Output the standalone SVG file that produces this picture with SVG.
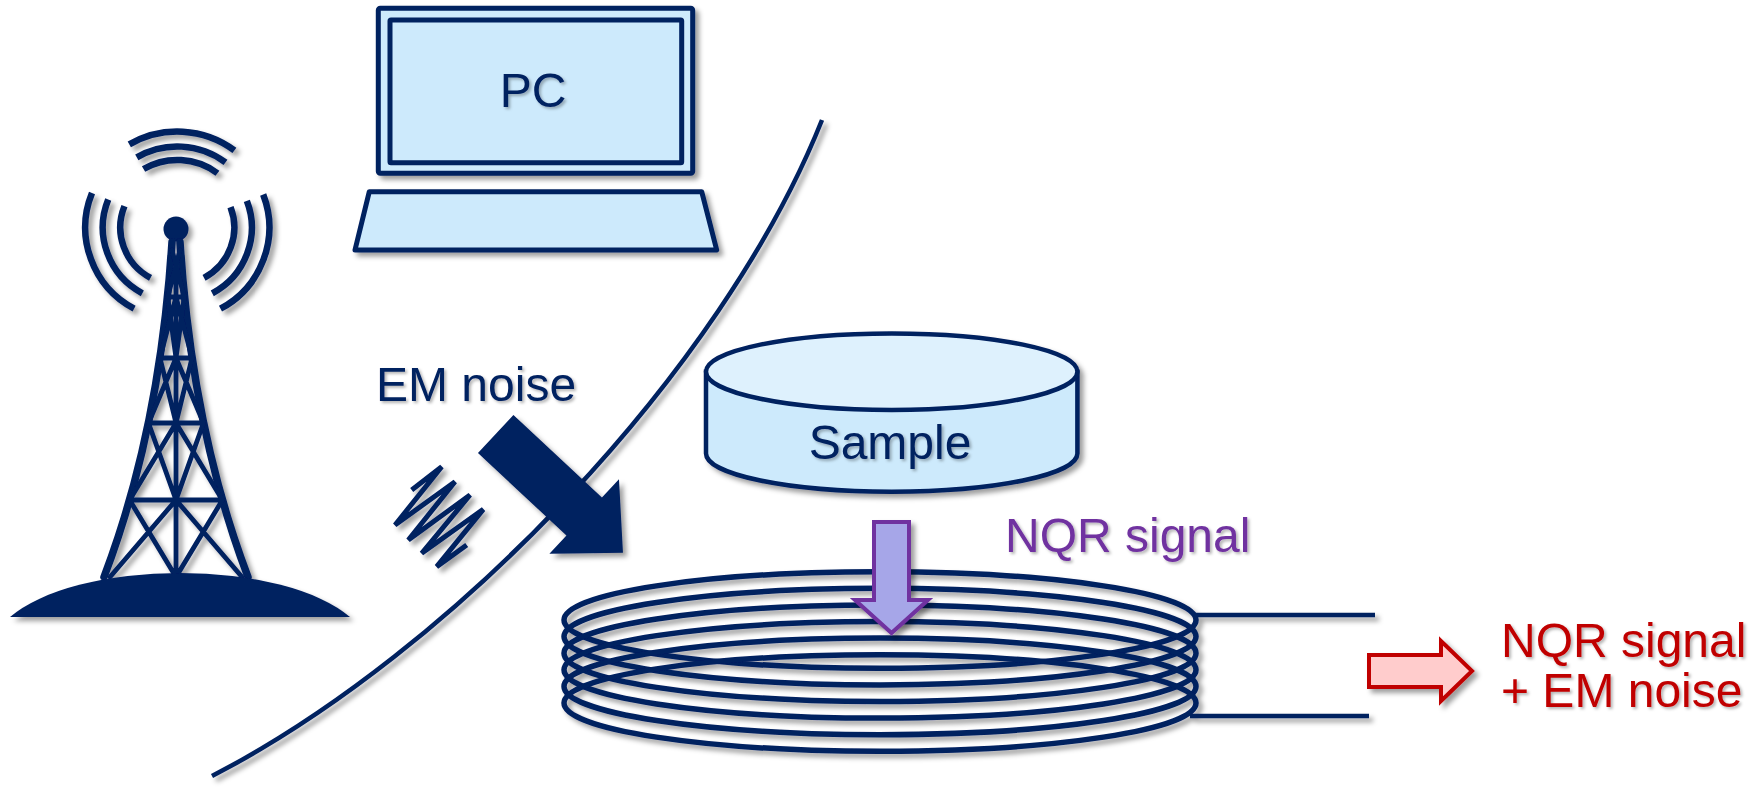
<svg xmlns="http://www.w3.org/2000/svg" width="1760" height="791" viewBox="0 0 1760 791">
  <defs>
    <filter id="shadow" filterUnits="userSpaceOnUse" x="0" y="0" width="1760" height="791">
      <feDropShadow dx="4" dy="4" stdDeviation="2.5" flood-color="#000" flood-opacity="0.38"/>
    </filter>
    <filter id="textShadow" filterUnits="userSpaceOnUse" x="0" y="0" width="1760" height="791">
      <feDropShadow dx="2" dy="2" stdDeviation="1.5" flood-color="#000" flood-opacity="0.3"/>
    </filter>
  </defs>
  <style>
    .navy { stroke: #002060; fill: none; }
    .wire { stroke: #002060; fill: none; stroke-width: 4.5; }
    .lattice { stroke: #002060; stroke-width: 4.8; fill: none; stroke-linecap: round; }
    .wave { stroke: #002060; stroke-width: 6.5; fill: none; stroke-linecap: butt; }
    .box { stroke: #002060; stroke-width: 5; stroke-linejoin: round; fill: #CDEAFC; }
    .label { font-family: "Liberation Sans", Arial, sans-serif; font-size: 48px; }
  </style>

  <!-- shielding boundary -->
  <g id="boundary" filter="url(#shadow)">
    <path class="wire" d="M822,120 C722,371 452,652 212,776"/>
  </g>

  <!-- radio tower -->
  <g id="tower" filter="url(#shadow)">
    <circle cx="176" cy="229" r="12.5" fill="#002060"/>
    <g class="wave">
      <path d="M124.45,206.15 A57,57 0 0 0 150.54,277.83"/>
      <path d="M108.22,199.59 A74.5,74.5 0 0 0 142.32,293.28"/>
      <path d="M92,193.04 A92,92 0 0 0 134.11,308.73"/>
      <path d="M230.52,207.07 A57,57 0 0 1 204.06,277.83"/>
      <path d="M246.85,200.8 A74.5,74.5 0 0 1 212.28,293.28"/>
      <path d="M263.19,194.53 A92,92 0 0 1 220.49,308.73"/>
      <path d="M143.55,169.04 A67.5,67.5 0 0 1 217.45,173.24"/>
      <path d="M136.8,157.35 A81,81 0 0 1 225.48,162.38"/>
      <path d="M129.3,144.36 A96,96 0 0 1 234.4,150.33"/>
    </g>
    <path class="lattice" style="stroke-width:7.5" d="M172,242 Q160,430 104,577 M180,242 Q192,430 248,577"/>
    <path class="lattice" d="M176,262 V577
      M167.7,297 H184.3 M160,358 H192 M148.5,423 H203.5 M129.6,500 H222.4
      M172,250 L184.3,297 M180,250 L167.7,297
      M167.7,297 L176,358 M176,297 L160,358 M184.3,297 L176,358 M176,297 L192,358
      M160,358 L176,423 M176,358 L148.5,423 M192,358 L176,423 M176,358 L203.5,423
      M148.5,423 L176,500 M176,423 L129.6,500 M203.5,423 L176,500 M176,423 L222.4,500
      M129.6,500 L176,577 M176,500 L110,577 M222.4,500 L176,577 M176,500 L242,577"/>
    <path d="M10,617 A188,77 0 0 1 350,617 Z" fill="#002060"/>
  </g>

  <!-- PC -->
  <g id="pc" filter="url(#shadow)">
    <rect class="box" x="378.3" y="8.3" width="314.4" height="165" rx="2"/>
    <rect class="box" x="390" y="20" width="291.7" height="142.7" rx="1"/>
    <polygon class="box" points="369.3,191.7 701.7,191.7 716.7,250 355,250"/>
  </g>
  <text class="label" x="533" y="107" text-anchor="middle" fill="#002060" filter="url(#textShadow)">PC</text>

  <!-- sample disc -->
  <g id="sample" filter="url(#shadow)">
    <path d="M706,371.7 V453.4 A185.7,38.3 0 0 0 1077.4,453.4 V371.7 Z" fill="#CDEAFC" stroke="#002060" stroke-width="4.5"/>
    <ellipse cx="891.7" cy="371.7" rx="185.7" ry="38.3" fill="#DEF1FD" stroke="#002060" stroke-width="4.5"/>
  </g>
  <text class="label" x="890" y="459" text-anchor="middle" fill="#002060" filter="url(#textShadow)">Sample</text>

  <!-- receive coil -->
  <g id="coil" filter="url(#shadow)">
    <g class="navy" stroke-width="5.5">
      <ellipse cx="880" cy="620" rx="316" ry="48.3"/>
      <ellipse cx="880" cy="636.6" rx="316" ry="48.3"/>
      <ellipse cx="880" cy="653.2" rx="316" ry="48.3"/>
      <ellipse cx="880" cy="669.8" rx="316" ry="48.3"/>
      <ellipse cx="880" cy="686.4" rx="316" ry="48.3"/>
      <ellipse cx="880" cy="703" rx="316" ry="48.3"/>
    </g>
    <path class="wire" d="M1194,615 H1375 M1190,716 H1369"/>
  </g>

  <!-- noise source symbol -->
  <g id="noise-wave" filter="url(#shadow)">
    <polyline class="navy" stroke-width="5" stroke-linejoin="miter" points="411.7,490 441.7,466.7 395,525 455,481.7 408.3,540 470,495 421.7,553.3 483.3,509.3 436.7,566.7 466.7,545"/>
  </g>

  <g id="connectors">
    <!-- EM noise entering -->
    <g id="noise-arrow" filter="url(#shadow)">
      <polygon transform="translate(495.7,434) rotate(43)" points="0,-26 121,-26 121,-51 174,0 121,51 121,26 0,26" fill="#002060"/>
    </g>
    <!-- NQR signal from sample to coil -->
    <g id="nqr-arrow" filter="url(#shadow)">
      <polygon points="874,522 909,522 909,600 928,600 891.5,633 855,600 874,600" fill="#A6A6E8" stroke="#7030A0" stroke-width="4"/>
    </g>
    <!-- coil output -->
    <g id="output-arrow" filter="url(#shadow)">
      <polygon points="1369,655 1441,655 1441,641 1472,671 1441,701 1441,687 1369,687" fill="#FFCCCC" stroke="#C00000" stroke-width="4"/>
    </g>
  </g>

  <g id="labels" class="label" filter="url(#textShadow)">
    <text x="376" y="401" fill="#002060">EM noise</text>
    <text x="1005" y="552" fill="#7030A0">NQR signal</text>
    <text x="1501" y="657" fill="#C00000">NQR signal</text>
    <text x="1501" y="707" fill="#C00000">+ EM noise</text>
  </g>
</svg>
